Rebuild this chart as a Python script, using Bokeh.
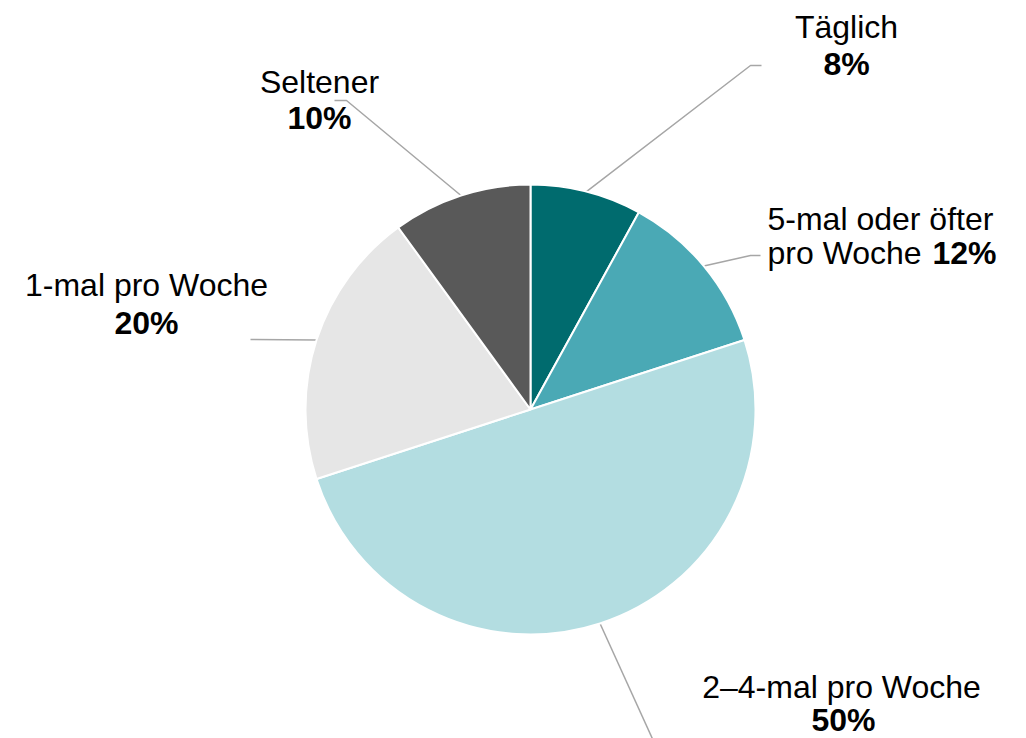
import math
from bokeh.plotting import figure
from bokeh.models import Range1d, ColumnDataSource
from bokeh.embed import file_html
from bokeh.resources import INLINE
from bokeh.core.properties import value

# ---- data ----
categories = ["Täglich", "5-mal oder öfter pro Woche", "2–4-mal pro Woche", "1-mal pro Woche", "Seltener"]
shares = [8, 12, 50, 20, 10]
colors = ["#006b6e", "#4aa9b5", "#b3dde1", "#e6e6e6", "#595959"]

# ---- layout (screen pixel coords, y downward) ----
W, H = 1026, 738
CX, CY, R = 530, 409, 225
FONT = "Liberation Sans"
FS = "32px"
TEXT_DY = -11  # renderer baseline correction


def sy(y):
    return H - y


p = figure(width=W, height=H, x_range=Range1d(0, W), y_range=Range1d(0, H),
           output_backend="svg", toolbar_location=None, min_border=0)
p.axis.visible = False
p.grid.visible = False
p.outline_line_color = None
p.background_fill_color = "white"
p.border_fill_color = "white"

# wedge angles (clockwise from 12 o'clock)
total = float(sum(shares))
starts, ends, mids = [], [], []
c = 0.0
for s in shares:
    c0 = c / total
    c += s
    c1 = c / total
    starts.append(math.pi / 2 - 2 * math.pi * c0)
    ends.append(math.pi / 2 - 2 * math.pi * c1)
    mids.append(math.pi / 2 - math.pi * (c0 + c1))

# leader lines: from slice mid-point on rim to label elbow
elbows = [
    [(750, 65), (761, 65)],
    [(750, 255), (760, 255)],
    [(655, 745)],
    [(250, 339)],
    [(346, 100), (334, 100)],
]
for m, el in zip(mids, elbows):
    xs = [CX + R * math.cos(m)] + [e[0] for e in el]
    ys = [sy(CY) + R * math.sin(m)] + [sy(e[1]) for e in el]
    p.line(xs, ys, line_color="#a6a6a6", line_width=1.5)

src = ColumnDataSource(dict(start=starts, end=ends, color=colors, cat=categories, share=shares))
p.wedge(x=CX, y=sy(CY), radius=R, start_angle="start", end_angle="end", direction="clock",
        fill_color="color", line_color="white", line_width=2, source=src)

# labels
pct = [f"{s}%" for s in shares]
normal_lines = [
    ("Täglich", 846, 37, "center"),
    ("5-mal oder öfter", 767, 229, "left"),
    ("pro Woche", 767, 263, "left"),
    ("2–4-mal pro Woche", 841, 697, "center"),
    ("1-mal pro Woche", 146, 295, "center"),
    ("Seltener", 319, 92, "center"),
]
bold_lines = [
    (pct[0], 846, 74, "center"),
    (pct[1], 932, 263, "left"),
    (pct[2], 843, 730, "center"),
    (pct[3], 146, 333, "center"),
    (pct[4], 319, 128, "center"),
]

for lines, style in ((normal_lines, "normal"), (bold_lines, "bold")):
    for txt, x, y, al in lines:
        p.text(x=[x], y=[sy(y + TEXT_DY)], text=[txt], text_font=value(FONT), text_font_size=FS,
               text_font_style=style, text_color="black", text_align=al,
               text_baseline="alphabetic")

open("out.html", "w").write(file_html(p, INLINE))
